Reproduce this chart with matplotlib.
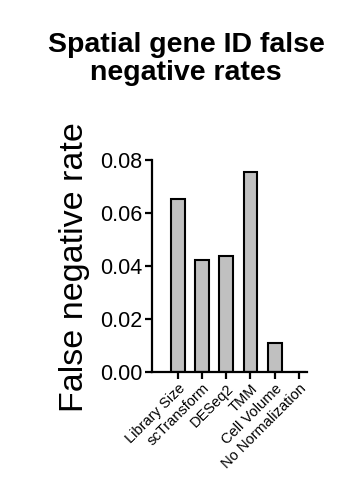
import matplotlib
matplotlib.use("Agg")
import matplotlib.pyplot as plt

plt.rcParams['font.family'] = ['Liberation Sans', 'DejaVu Sans']

methods = ["Library Size", "scTransform", "DESeq2", "TMM", "Cell Volume", "No Normalization"]
fn_rate = [0.0654, 0.0421, 0.0436, 0.0753, 0.0108, 0.0]
yticks = [0.00, 0.02, 0.04, 0.06, 0.08]

fig = plt.figure(figsize=(3.61, 4.82), dpi=100)
ax = fig.add_axes([0.421, 0.229, 0.429, 0.439])

x = list(range(len(methods)))
ax.bar(x, fn_rate, width=0.57, color="#c0c0c0", edgecolor="black", linewidth=1.5)

ax.set_xlim(-1.07, 5.33)
ax.set_ylim(0, 0.08)
ax.set_yticks(yticks)
ax.set_yticklabels([f"{v:.2f}" for v in yticks], fontsize=15.5)
ax.set_xticks(x)
ax.set_xticklabels(methods, rotation=45, ha="right", rotation_mode="anchor", fontsize=10.5)

for s in ["top", "right"]:
    ax.spines[s].set_visible(False)
for s in ["left", "bottom"]:
    ax.spines[s].set_linewidth(1.6)
ax.tick_params(axis="both", width=1.6, length=5, pad=2)

fig.text(75 / 361, 1 - 267 / 482, "False negative rate", rotation=90,
         ha="center", va="center", fontsize=24.5)
fig.text(186 / 361, 1 - 59 / 482, "Spatial gene ID false\nnegative rates",
         ha="center", va="center", fontsize=20.5, fontweight="bold", linespacing=1.05)

fig.savefig("out.png", dpi=100)
